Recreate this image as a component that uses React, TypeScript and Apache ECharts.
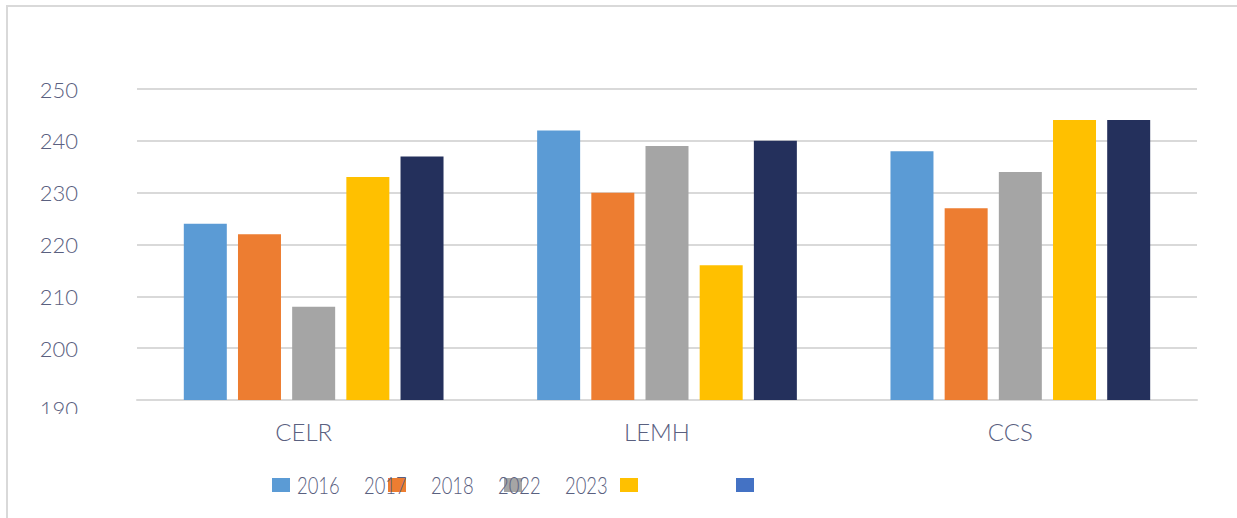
import React, { useEffect, useRef } from "react";
import * as echarts from "echarts";

const categories = ["CELR", "LEMH", "CCS"];
const seriesNames = ["2016", "2017", "2018", "2022", "2023"];
const v2016 = [224, 242, 238];
const v2017 = [222, 230, 227];
const v2018 = [208, 239, 234];
const v2022 = [233, 216, 244];
const v2023 = [237, 240, 244];
const seriesValues = [v2016, v2017, v2018, v2022, v2023];
const barColors = ["#5B9BD5", "#ED7D31", "#A5A5A5", "#FFC000", "#24305C"];
const legendSwatchColors = ["#5B9BD5", "#ED7D31", "#A5A5A5", "#FFC000", "#4472C4"];
const yMin = 190;
const yMax = 250;
const yStep = 10;

const TEXT = "#5a6080";
const FONT = "Lato, 'Open Sans', sans-serif";

export default function App() {
  const ref = useRef<HTMLDivElement>(null);
  useEffect(() => {
    if (!ref.current) return;
    const chart = echarts.init(ref.current, null, { renderer: "svg" });
    const legendGraphics: any[] = [];
    seriesNames.forEach((name, i) => {
      legendGraphics.push({
        type: "rect",
        z: 50,
        shape: { x: 272 + i * 116, y: 478, width: 18, height: 14 },
        style: { fill: legendSwatchColors[i] },
      });
    });
    seriesNames.forEach((name, i) => {
      legendGraphics.push({
        type: "text",
        z: 60,
        x: 297 + i * 67,
        y: 485,
        scaleX: 0.8,
        style: {
          text: name,
          fill: TEXT,
          font: `300 23px ${FONT}`,
          textAlign: "left",
          textVerticalAlign: "middle",
        },
      });
    });
    chart.setOption({
      animation: false,
      backgroundColor: "#ffffff",
      grid: { left: 137, right: 40, top: 89, bottom: 118, containLabel: false },
      xAxis: {
        type: "category",
        data: categories,
        axisLine: { show: true, lineStyle: { color: "#d9d9d9", width: 2 } },
        axisTick: { show: false },
        axisLabel: {
          color: TEXT,
          fontFamily: FONT,
          fontWeight: 300,
          fontSize: 24,
          margin: 19,
          padding: [0, 20, 0, 0],
        },
      },
      yAxis: {
        type: "value",
        min: yMin,
        max: yMax,
        interval: yStep,
        axisLine: { show: false },
        axisTick: { show: false },
        splitLine: { lineStyle: { color: "#d9d9d9", width: 2 } },
        axisLabel: {
          color: TEXT,
          fontFamily: FONT,
          fontWeight: 300,
          fontSize: 22,
          margin: 59,
          showMinLabel: false,
        },
      },
      series: seriesNames.map((name, i) => ({
        name,
        type: "bar",
        data: seriesValues[i],
        barWidth: 43,
        barGap: "26%",
        itemStyle: { color: barColors[i] },
      })),
      graphic: [
        {
          type: "rect",
          z: 100,
          shape: { x: 7, y: 6, width: 1400, height: 700 },
          style: { fill: "none", stroke: "#d9d9d9", lineWidth: 2 },
        },
        {
          type: "text",
          z: 90,
          x: 78,
          y: 408,
          style: {
            text: String(yMin),
            fill: TEXT,
            font: `300 22px ${FONT}`,
            textAlign: "right",
            textVerticalAlign: "middle",
          },
        },
        {
          type: "rect",
          z: 95,
          shape: { x: 20, y: 414, width: 100, height: 20 },
          style: { fill: "#ffffff" },
        },
        ...legendGraphics,
      ],
    });
    return () => chart.dispose();
  }, []);
  return (
    <div
      ref={ref}
      style={{ position: "fixed", left: 0, top: 0, width: 1237, height: 518 }}
    />
  );
}
